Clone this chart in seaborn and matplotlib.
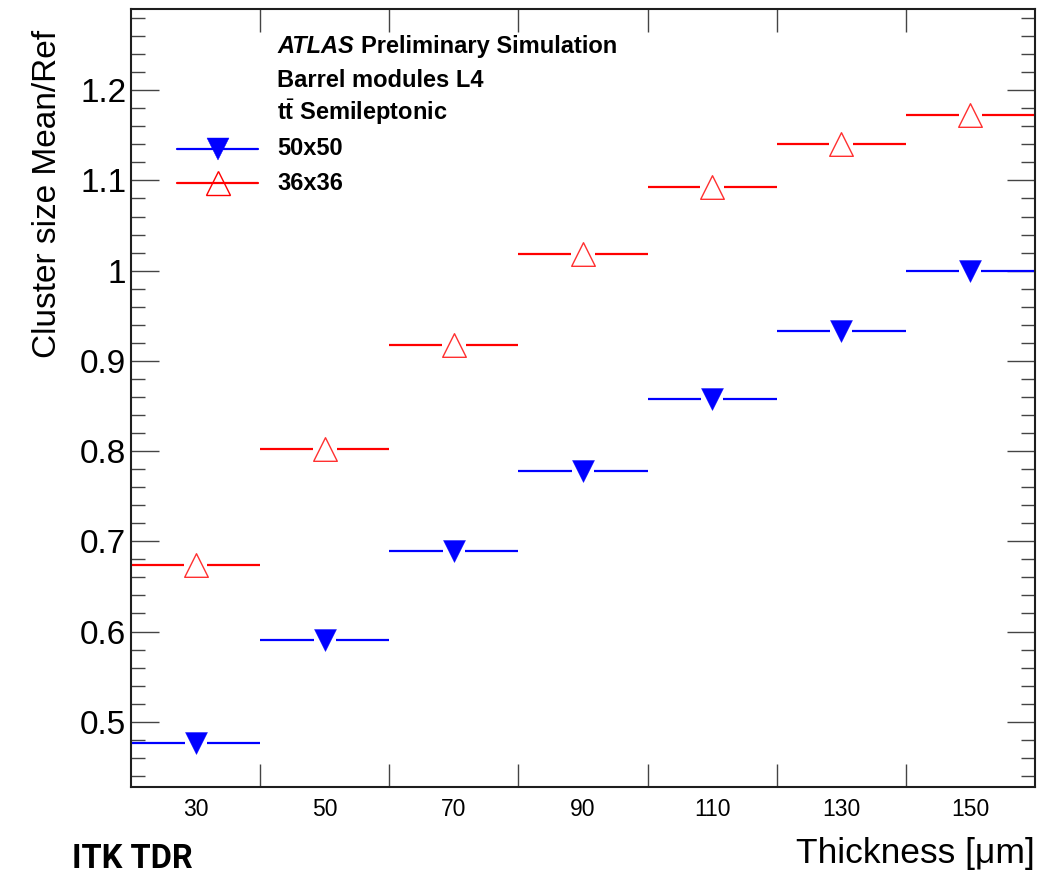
import numpy as np
import pandas as pd
import matplotlib
matplotlib.use("Agg")
import matplotlib.pyplot as plt
import seaborn as sns

# Bin layout (thickness in um)
bin_edges = [20, 40, 60, 80, 100, 120, 140, 160]
bin_centers = [30, 50, 70, 90, 110, 130, 150]
x_tick_labels = ["30", "50", "70", "90", "110", "130", "150"]

# Cluster size mean / reference for two pixel pitches
ratio_50x50 = [0.477, 0.591, 0.689, 0.778, 0.858, 0.933, 1.000]
ratio_36x36 = [0.674, 0.802, 0.918, 1.019, 1.093, 1.140, 1.173]

series_names = ["50x50", "36x36"]
series_colors = {"50x50": "#0000ff", "36x36": "#ff0000"}

y_major = [0.5, 0.6, 0.7, 0.8, 0.9, 1.0, 1.1, 1.2]

header_lines = ["Barrel modules L4", r"$\mathbf{t}\bar{\mathbf{t}}$ Semileptonic"]

df = pd.DataFrame({
    "thickness": bin_centers * 2,
    "lo": bin_edges[:-1] * 2,
    "hi": bin_edges[1:] * 2,
    "ratio": ratio_50x50 + ratio_36x36,
    "pitch": [series_names[0]] * len(bin_centers) + [series_names[1]] * len(bin_centers),
})

sns.set_theme(style="ticks")
plt.rcParams["font.family"] = ["Liberation Sans", "DejaVu Sans"]
plt.rcParams.update({
    "text.color": "black",
    "axes.labelcolor": "black",
    "xtick.labelcolor": "black",
    "ytick.labelcolor": "black",
    "mathtext.fontset": "custom",
    "mathtext.rm": "Liberation Sans",
    "mathtext.bf": "Liberation Sans:bold",
    "mathtext.it": "Liberation Sans:italic",
})

DPI = 100
fig = plt.figure(figsize=(10.48, 8.75), dpi=DPI)
ax = fig.add_axes([0.125, 0.1009, 0.8626, 0.8888])

xmin, xmax = bin_edges[0], bin_edges[-1]
ymin, ymax = 0.428, 1.29
ax.set_xlim(xmin, xmax)
ax.set_ylim(ymin, ymax)

ms_blue = 15.8   # marker size, points
ms_red = 17.0
ax_w_px = 0.8626 * 10.48 * DPI

def half_gap(ms):
    return (ms * DPI / 72.0 / 2.0) / ax_w_px * (xmax - xmin)

# Horizontal bin-width bars, interrupted around the marker
for name, ms in zip(series_names, [ms_blue, ms_red]):
    sub = df[df["pitch"] == name]
    g = half_gap(ms)
    ax.hlines(sub["ratio"], sub["lo"], sub["thickness"] - g,
              color=series_colors[name], lw=1.6, zorder=2)
    ax.hlines(sub["ratio"], sub["thickness"] + g, sub["hi"],
              color=series_colors[name], lw=1.6, zorder=2)

sns.scatterplot(data=df[df["pitch"] == "50x50"], x="thickness", y="ratio",
                marker="v", s=ms_blue ** 2, color=series_colors["50x50"],
                edgecolor=series_colors["50x50"], linewidth=0.3,
                legend=False, ax=ax, zorder=3)
sns.scatterplot(data=df[df["pitch"] == "36x36"], x="thickness", y="ratio",
                marker="^", s=ms_red ** 2, color=series_colors["36x36"],
                facecolor="white", edgecolor="#ff3030", linewidth=1.0,
                legend=False, ax=ax, zorder=3)

# Frame and ticks
frame_color = "#1e1e1e"
for sp in ax.spines.values():
    sp.set_visible(True)
    sp.set_linewidth(1.5)
    sp.set_color(frame_color)

ax.set_xticks(bin_edges[1:-1], labels=[""] * (len(bin_edges) - 2))
ax.set_xticks(bin_centers, labels=x_tick_labels, minor=True)
ax.tick_params(axis="x", which="major", direction="in", length=16.5, width=1.0,
               color="#444444", top=True, bottom=True)
ax.tick_params(axis="x", which="minor", length=0, labelsize=16.5, pad=8,
               top=False, bottom=True)

ax.set_yticks(y_major, labels=[f"{v:g}" for v in y_major])
ax.set_yticks(np.round(np.arange(0.44, 1.29, 0.02), 2), minor=True)
ax.tick_params(axis="y", which="major", direction="in", length=20, width=1.0,
               color="#444444", left=True, right=True, labelsize=24, pad=3.5)
ax.tick_params(axis="y", which="minor", direction="in", length=10, width=1.0,
               color="#444444", left=True, right=True)

ax.set_ylabel("Cluster size Mean/Ref", fontsize=24, loc="top")
ax.yaxis.set_label_coords(-0.0752, 0.973)
ax.set_xlabel("Thickness [\u03bcm]", fontsize=25.5, loc="right")
ax.xaxis.set_label_coords(1.0, -0.065)

# Header and legend block
fs_head = 17
tx = 0.1615
atlas = ax.text(tx, 0.9434, "ATLAS", transform=ax.transAxes, fontsize=fs_head,
                fontweight="bold", fontstyle="italic", va="baseline")
ax.annotate("Preliminary Simulation", xy=(1, 0), xycoords=atlas,
            xytext=(5.5, 0), textcoords="offset points", fontsize=fs_head,
            fontweight="bold", va="bottom")
for line, yb in zip(header_lines, [0.8997, 0.8573]):
    ax.text(tx, yb, line, transform=ax.transAxes, fontsize=fs_head,
            fontweight="bold", va="baseline")

key_x0, key_x1, key_xm = 0.0509, 0.1405, 0.0962
for name, marker, ms, face, yk, yb in [
        ("50x50", "v", ms_blue, series_colors["50x50"], 0.8203, 0.8123),
        ("36x36", "^", ms_red, "none", 0.7766, 0.7673)]:
    ax.plot([key_x0, key_x1], [yk, yk], color=series_colors[name], lw=1.6,
            transform=ax.transAxes, zorder=4)
    ax.plot([key_xm], [yk], marker=marker, markersize=ms, linestyle="none",
            markerfacecolor=face, markeredgecolor=series_colors[name],
            markeredgewidth=1.0 if face == "none" else 0.3,
            transform=ax.transAxes, zorder=5)
    ax.text(tx, yb, name, transform=ax.transAxes, fontsize=fs_head,
            fontweight="bold", va="baseline")

fig.text(72 / 1048, 0.0, "ITK TDR", fontsize=23.5, fontweight="bold",
         family=["Roboto", "DejaVu Sans"], va="bottom", ha="left")

fig.savefig("out.png", dpi=DPI)
